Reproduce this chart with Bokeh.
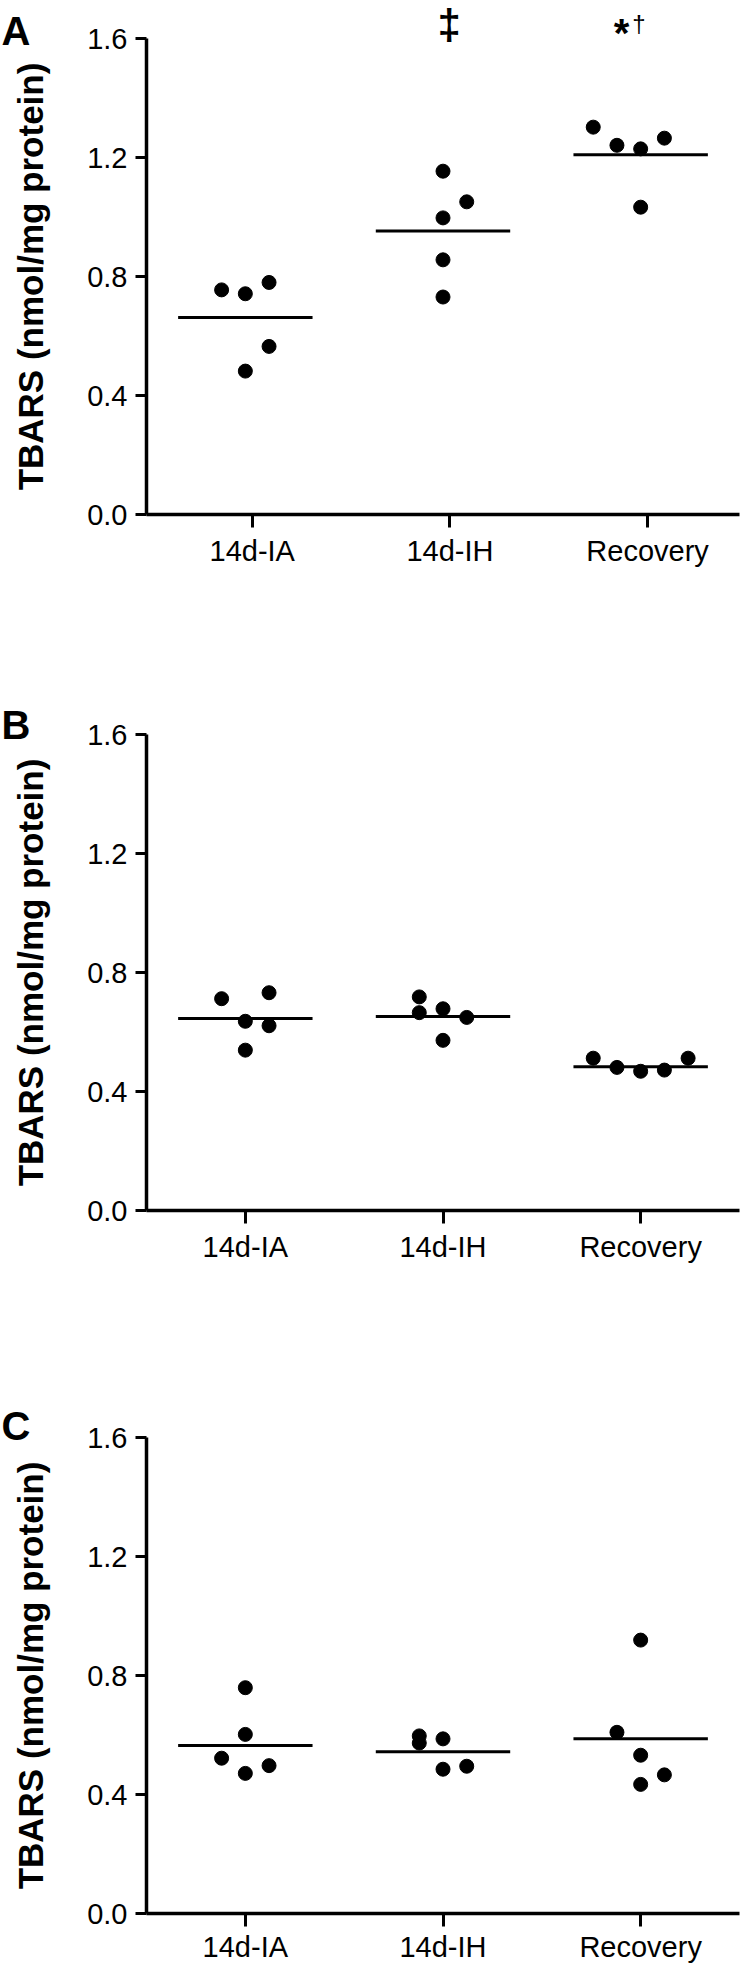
from bokeh.plotting import figure
from bokeh.layouts import column
from bokeh.models import Range1d, FixedTicker, PrintfTickFormatter, Label
from bokeh.embed import file_html
from bokeh.resources import INLINE

# ---------------- data ----------------
groups = ["14d-IA", "14d-IH", "Recovery"]
y_ticks = [0.0, 0.4, 0.8, 1.2, 1.6]
y_label = "TBARS (nmol/mg protein)"

# Panel A
a_ia = [0.755, 0.742, 0.780, 0.565, 0.482]
a_ih = [1.154, 1.051, 0.997, 0.856, 0.731]
a_rec = [1.302, 1.241, 1.229, 1.265, 1.033]
a_means = [0.662, 0.953, 1.209]
a_marks = ["", "\u2021", "*\u2020"]

# Panel B
b_ia = [0.712, 0.732, 0.636, 0.621, 0.539]
b_ih = [0.718, 0.665, 0.678, 0.649, 0.572]
b_rec = [0.512, 0.481, 0.468, 0.472, 0.512]
b_means = [0.645, 0.652, 0.483]

# Panel C
c_ia = [0.759, 0.602, 0.522, 0.497, 0.471]
c_ih = [0.597, 0.573, 0.587, 0.485, 0.495]
c_rec = [0.919, 0.609, 0.532, 0.466, 0.434]
c_means = [0.565, 0.544, 0.587]

# ---------------- layout (scatter columns, sizes) ----------------
a_cols = [[-1, 0, 1, 1, 0], [0, 1, 0, 0, 0], [-2, -1, 0, 1, 0]]
b_cols = [[-1, 1, 0, 1, 0], [-1, -1, 0, 1, 0], [-2, -1, 0, 1, 2]]
c_cols = [[0, 0, -1, 1, 0], [-1, -1, 0, 0, 1], [0, -1, 0, 1, 0]]
COL_STEP = 0.12
HALF_LINE = 0.34

FONT = "Liberation Sans"
W = 740            # canvas width
AX_X = 146         # y-axis line position (canvas px)
SX = 593 / 3.0     # px per category unit


def panel(letter, series, means, cols, x_left, shift, H, ftop, fbot,
          letter_base, xl_standoff):
    ppu = (fbot - ftop) / 1.6
    xs0 = x_left - AX_X / SX
    xs1 = x_left + (W - AX_X) / SX
    ys0 = -(H - fbot) / ppu
    ys1 = 1.6 + ftop / ppu

    def X(cx):
        return xs0 + cx / SX

    def Y(cy):
        return ys1 - cy / ppu

    p = figure(width=W, height=H,
               x_range=Range1d(xs0, xs1), y_range=Range1d(ys0, ys1),
               output_backend="svg", toolbar_location=None,
               min_border=0)
    p.outline_line_color = None
    p.xgrid.visible = False
    p.ygrid.visible = False
    p.background_fill_color = "white"
    p.border_fill_color = "white"

    for gi, (vals, cc) in enumerate(zip(series, cols)):
        xs = [gi + 1 + shift + c * COL_STEP for c in cc]
        p.scatter(xs, vals, size=14, color="black")
    mx0 = [i + 1 + shift - HALF_LINE for i in range(3)]
    mx1 = [i + 1 + shift + HALF_LINE for i in range(3)]
    p.segment(mx0, means, mx1, means, line_color="black", line_width=3)

    # y axis
    ya = p.yaxis[0]
    ya.fixed_location = x_left
    ya.bounds = (0, 1.6)
    ya.ticker = FixedTicker(ticks=y_ticks)
    ya.formatter = PrintfTickFormatter(format="%.1f")
    ya.minor_tick_line_color = None
    ya.major_tick_in = 0
    ya.major_tick_out = 11
    ya.major_tick_line_width = 3
    ya.axis_line_width = 3.5
    ya.major_label_standoff = 8
    ya.major_label_text_font = FONT
    ya.major_label_text_font_size = "29px"
    ya.major_label_text_color = "black"
    ya.axis_label = y_label
    ya.axis_label_text_font = FONT
    ya.axis_label_text_font_style = "bold"
    ya.axis_label_text_font_size = "35px"
    ya.axis_label_text_color = "black"
    ya.axis_label_standoff = 34

    # x axis
    xa = p.xaxis[0]
    xa.fixed_location = 0
    xa.bounds = (x_left, x_left + 3.0)
    xa.ticker = FixedTicker(ticks=[1, 2, 3])
    xa.major_label_overrides = {i + 1: g for i, g in enumerate(groups)}
    xa.minor_tick_line_color = None
    xa.major_tick_in = 0
    xa.major_tick_out = 13
    xa.major_tick_line_width = 3
    xa.axis_line_width = 3.5
    xa.major_label_standoff = xl_standoff
    xa.major_label_text_font = FONT
    xa.major_label_text_font_size = "29px"
    xa.major_label_text_color = "black"

    # panel letter
    p.add_layout(Label(x=X(1), y=Y(letter_base), text=letter,
                       text_font=FONT, text_font_style="bold",
                       text_font_size="40px", text_color="black",
                       text_align="left", text_baseline="alphabetic"))
    return p, X, Y


pA, XA, YA = panel("A", [a_ia, a_ih, a_rec], a_means, a_cols, 0.465, -0.035,
                   682, 38, 514, 30, 7)
pB, _, _ = panel("B", [b_ia, b_ih, b_rec], b_means, b_cols, 0.5, 0.0,
                 705, 52, 528, 42, 7)
pC, _, _ = panel("C", [c_ia, c_ih, c_rec], c_means, c_cols, 0.5, 0.0,
                 576, 50, 526, 38, 4)

# significance marks above panel A
pA.add_layout(Label(x=XA(448.7), y=YA(24), text=a_marks[1],
                    text_font=FONT, text_font_style="bold",
                    text_font_size="42px", text_color="black",
                    text_align="center", text_baseline="middle"))
pA.add_layout(Label(x=XA(621), y=YA(32.5), text=a_marks[2][0],
                    text_font=FONT, text_font_style="bold",
                    text_font_size="40px", text_color="black",
                    text_align="center", text_baseline="middle"))
pA.add_layout(Label(x=XA(638.5), y=YA(23.2), text=a_marks[2][1],
                    text_font=FONT,
                    text_font_size="24px", text_color="black",
                    text_align="center", text_baseline="middle"))

layout = column(pA, pB, pC, spacing=0)
open("out.html", "w").write(file_html(layout, INLINE))
